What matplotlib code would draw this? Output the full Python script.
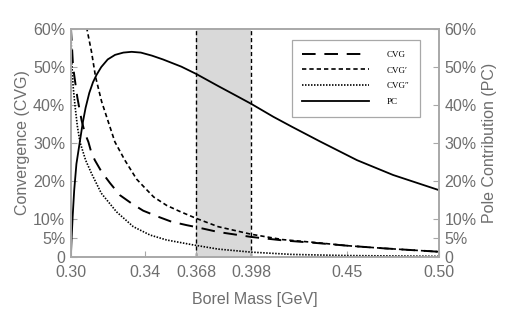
import matplotlib
matplotlib.use("Agg")
import matplotlib.pyplot as plt

# Values (percent)
pc_m = [0.3000, 0.3004, 0.3010, 0.3018, 0.3030, 0.3049, 0.3065, 0.3080, 0.3100, 0.3120,
        0.3140, 0.3165, 0.3200, 0.3240, 0.3285, 0.3330, 0.3380, 0.3440, 0.3500, 0.3600,
        0.3680, 0.3800, 0.3900, 0.3980, 0.4100, 0.4200, 0.4350, 0.4554, 0.4750, 0.4900,
        0.5000]
pc_v = [0.0, 5.0, 11.0, 17.6, 24.5, 30.5, 35.5, 39.3, 43.2, 46.0,
        48.0, 50.0, 52.0, 53.2, 53.8, 54.0, 53.8, 53.0, 52.0, 50.1,
        48.2, 45.0, 42.4, 40.3, 36.9, 34.3, 30.5, 25.5, 21.6, 19.2,
        17.6]

cvg_m = [0.3000, 0.3012, 0.3035, 0.3058, 0.3076, 0.3095, 0.3110, 0.3130, 0.3167, 0.3212,
         0.3266, 0.3330, 0.3393, 0.3475, 0.3547, 0.3629, 0.3680, 0.3800, 0.3980, 0.4150,
         0.4335, 0.4500, 0.4700, 0.5000]
cvg_v = [60.5, 50.0, 42.0, 36.0, 32.6, 30.3, 27.7, 25.5, 22.4, 19.5,
         16.3, 14.1, 12.2, 10.6, 9.3, 8.4, 7.9, 6.6, 5.3, 4.4,
         3.7, 3.0, 2.3, 1.4]

cvg1_m = [0.3085, 0.3112, 0.3134, 0.3167, 0.3203, 0.3239, 0.3293, 0.3357, 0.3400, 0.3450,
          0.3520, 0.3592, 0.3680, 0.3800, 0.3980, 0.4150, 0.4335, 0.4500, 0.4700, 0.5000]
cvg1_v = [60.5, 54.0, 47.4, 40.9, 35.6, 30.3, 25.5, 20.5, 18.3, 15.8,
          13.6, 12.0, 10.2, 8.0, 6.0, 4.6, 3.8, 3.0, 2.3, 1.4]

cvg2_m = [0.3000, 0.3004, 0.3012, 0.3022, 0.3035, 0.3049, 0.3080, 0.3112, 0.3165, 0.3248,
          0.3339, 0.3430, 0.3520, 0.3665, 0.3800, 0.3980, 0.4200, 0.4500, 0.5000]
cvg2_v = [60.5, 52.0, 45.0, 40.0, 34.5, 30.3, 25.5, 22.0, 16.8, 11.9,
          8.0, 5.8, 4.5, 3.2, 2.1, 1.3, 0.7, 0.4, 0.2]

window = (0.368, 0.398)
xticks = [0.30, 0.34, 0.368, 0.398, 0.45, 0.50]
xticklabels = ["0.30", "0.34", "0.368", "0.398", "0.45", "0.50"]
yticks = [0, 5, 10, 20, 30, 40, 50, 60]
yticklabels = ["0", "5%", "10%", "20%", "30%", "40%", "50%", "60%"]

gray = "#6e6e6e"
spine = "#a8a8a8"
plt.rcParams["font.family"] = ["Liberation Sans", "DejaVu Sans"]

fig = plt.figure(figsize=(5.10, 3.12), dpi=100)
ax = fig.add_axes([0.139, 0.176, 0.722, 0.731])
ax2 = ax.twinx()

ax.axvspan(window[0], window[1], color="#d9d9d9", lw=0, zorder=0)
for xv in window:
    ax.axvline(xv, color="black", lw=1.0, dashes=(3, 2), zorder=1)

ax.plot(cvg_m, cvg_v, color="black", lw=1.4, dashes=(7, 4.5), label="CVG")
ax.plot(cvg1_m, cvg1_v, color="black", lw=1.2, dashes=(2.6, 1.8), label="CVG\u2032")
ax.plot(cvg2_m, cvg2_v, color="black", lw=1.2, dashes=(0.9, 0.9), label="CVG\u2033")
ax.plot(pc_m, pc_v, color="black", lw=1.3, label="PC")

for a in (ax, ax2):
    a.set_xlim(0.30, 0.50)
    a.set_ylim(0, 60)
    a.set_yticks(yticks)
    a.set_yticklabels(yticklabels)
    a.tick_params(direction="in", colors=spine, labelcolor=gray, labelsize=11.5,
                  length=4, pad=4)
    for s in a.spines.values():
        s.set_color(spine)
        s.set_linewidth(1.2)

ax.set_xticks(xticks)
ax.set_xticklabels(xticklabels)
ax.tick_params(axis="x", pad=6)
ax.set_xlabel("Borel Mass [GeV]", color=gray, fontsize=11.5, labelpad=8)
ax.set_ylabel("Convergence (CVG)", color=gray, fontsize=11.5, labelpad=2)
ax2.set_ylabel("Pole Contribution (PC)", color=gray, fontsize=11.5, labelpad=4)

leg = ax.legend(loc="upper right", bbox_to_anchor=(0.948, 0.952), fancybox=False,
                framealpha=1, edgecolor=spine, handlelength=7.4, handletextpad=1.9,
                borderpad=1.2, labelspacing=0.8, borderaxespad=0,
                prop={"family": ["Liberation Serif", "DejaVu Serif"], "size": 6.5})
leg.get_frame().set_linewidth(0.9)

fig.savefig("out.png", dpi=100)
